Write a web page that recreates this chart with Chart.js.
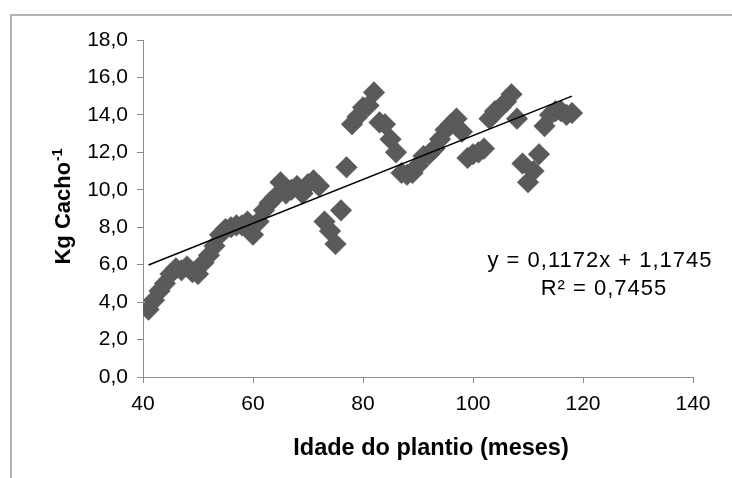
<!DOCTYPE html>
<html>
<head>
<meta charset="utf-8">
<script src="https://cdn.jsdelivr.net/npm/chart.js@4.4.1/dist/chart.umd.min.js"></script>
<style>
	html, body { margin: 0; padding: 0; background: #fff; }
	#wrap { width: 732px; height: 478px; }
</style>
</head>
<body>
<div id="wrap"><canvas id="chart" width="732" height="478"></canvas></div>
<script>
// idade do plantio (meses)
const months = [
	41, 42, 43, 44, 45, 46, 47, 48, 49, 50,
	51, 52, 53, 54, 55, 56, 57, 58, 59, 60,
	61, 62, 63, 64, 65, 66, 67, 68, 69, 70,
	71, 72, 73, 74, 75, 76, 77, 78, 79, 80,
	81, 82, 83, 84, 85, 86, 87, 88, 89, 90,
	91, 92, 93, 94, 95, 96, 97, 98, 99, 100,
	101, 102, 103, 104, 105, 106, 107, 108, 109, 110,
	111, 112, 113, 114, 115, 116, 117, 118
];
// kg por cacho
const kgCacho = [
	3.6, 4.1, 4.6, 5.0, 5.5, 5.8, 5.7, 5.9, 5.6, 5.5,
	6.1, 6.5, 7.0, 7.6, 7.9, 8.0, 8.1, 8.1, 8.3, 7.6,
	8.3, 8.9, 9.3, 9.6, 10.4, 9.8, 10.0, 10.2, 9.8, 10.3,
	10.5, 10.2, 8.3, 7.8, 7.1, 8.9, 11.2, 13.5, 13.9, 14.4,
	14.5, 15.2, 13.6, 13.5, 12.7, 12.0, 10.9, 10.8, 10.9, 11.3,
	11.8, 11.9, 12.2, 12.7, 13.2, 13.5, 13.8, 13.1, 11.7, 11.9,
	12.0, 12.2, 13.8, 14.2, 14.4, 14.7, 15.1, 13.8, 11.4, 10.4,
	11.0, 11.9, 13.4, 14.0, 14.2, 14.2, 14.0, 14.1
];
// linha de tendência: y = a*x + b
const trendSlope = [0.1172];
const trendIntercept = [1.1745];
const trendRange = [41, 118];
const equationLines = ['y = 0,1172x + 1,1745', 'R² = 0,7455'];
const xTicks = [40, 60, 80, 100, 120, 140];
const yTicks = [0, 2, 4, 6, 8, 10, 12, 14, 16, 18];

(function () {
	const app = {
		fontFamily: '"Liberation Sans", Arial, sans-serif',

		fmt(v) {
			return v.toFixed(1).replace('.', ',');
		},

		// frame, axis titles and the regression text
		extrasPlugin() {
			const fam = app.fontFamily;
			return {
				id: 'extras',
				afterDraw(chart) {
					const ctx = chart.ctx;
					ctx.save();

					// outer frame (only left and top visible)
					ctx.strokeStyle = '#b3b3b3';
					ctx.lineWidth = 2;
					ctx.beginPath();
					ctx.moveTo(11, 478);
					ctx.lineTo(11, 15);
					ctx.lineTo(732, 15);
					ctx.stroke();

					ctx.fillStyle = '#000';

					// x title
					ctx.font = 'bold 23.5px ' + fam;
					ctx.textAlign = 'center';
					ctx.textBaseline = 'alphabetic';
					ctx.fillText('Idade do plantio (meses)', 431, 455);

					// y title with superscript
					const main = 'Kg Cacho';
					const sup = '-1';
					ctx.font = 'bold 22px ' + fam;
					const wMain = ctx.measureText(main).width;
					ctx.font = 'bold 14px ' + fam;
					const wSup = ctx.measureText(sup).width;
					ctx.translate(70, 207);
					ctx.rotate(-Math.PI / 2);
					ctx.textAlign = 'left';
					const start = -(wMain + wSup) / 2;
					ctx.font = 'bold 22px ' + fam;
					ctx.fillText(main, start, 0);
					ctx.font = 'bold 14px ' + fam;
					ctx.fillText(sup, start + wMain + 1, -8);
					ctx.setTransform(1, 0, 0, 1, 0, 0);

					// equation
					ctx.font = '22px ' + fam;
					ctx.letterSpacing = '1px';
					ctx.textAlign = 'center';
					ctx.fillText(equationLines[0], 600, 267);
					ctx.fillText(equationLines[1], 604, 295);

					ctx.restore();
				}
			};
		},

		drawChart() {
			const el = document.getElementById('chart');
			if (!el) return;

			const points = months.map((m, i) => ({ x: m, y: kgCacho[i] }));
			const trend = trendRange.map(x => ({ x: x, y: trendSlope[0] * x + trendIntercept[0] }));
			const tickFont = { family: app.fontFamily, size: 21 };

			new Chart(el.getContext('2d'), {
				type: 'scatter',
				data: {
					datasets: [{
						label: 'Kg Cacho',
						data: points,
						pointStyle: 'rectRot',
						pointRadius: 10.8,
						pointBackgroundColor: '#5a5a5a',
						pointBorderColor: '#555555',
						pointBorderWidth: 0.5,
						order: 2
					}, {
						label: 'Linear',
						type: 'line',
						data: trend,
						borderColor: '#000',
						borderWidth: 1.5,
						pointRadius: 0,
						fill: false,
						order: 1
					}]
				},
				options: {
					responsive: false,
					animation: false,
					events: [],
					layout: { padding: { top: 40, right: 39, left: 0, bottom: 0 } },
					plugins: {
						legend: { display: false },
						tooltip: { enabled: false }
					},
					scales: {
						x: {
							type: 'linear',
							min: xTicks[0],
							max: xTicks[xTicks.length - 1],
							afterBuildTicks: (s) => { s.ticks = xTicks.map(v => ({ value: v })); },
							afterFit: (s) => { s.height = 101; },
							grid: { drawOnChartArea: false, drawTicks: true, tickLength: 6, color: '#8c8c8c' },
							border: { color: '#8c8c8c', width: 1 },
							ticks: { color: '#000', font: tickFont, padding: 9, maxRotation: 0 }
						},
						y: {
							type: 'linear',
							min: yTicks[0],
							max: yTicks[yTicks.length - 1],
							afterBuildTicks: (s) => { s.ticks = yTicks.map(v => ({ value: v })); },
							afterFit: (s) => { s.width = 143; },
							grid: { drawOnChartArea: false, drawTicks: true, tickLength: 6, color: '#8c8c8c' },
							border: { color: '#8c8c8c', width: 1 },
							ticks: { color: '#000', font: tickFont, padding: 9, callback: (v) => app.fmt(v) }
						}
					}
				},
				plugins: [app.extrasPlugin()]
			});
		},

		init() {
			app.drawChart();
		}
	};

	window.app = app;
})();

document.addEventListener('DOMContentLoaded', () => {
	window.app?.init?.();
});
</script>
</body>
</html>
